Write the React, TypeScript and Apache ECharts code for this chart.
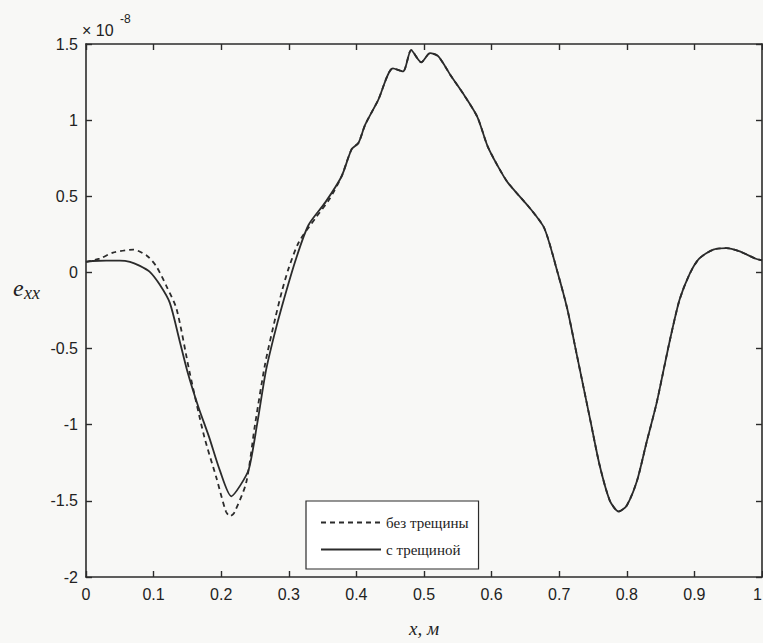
import React, { useEffect, useRef } from "react";
import * as echarts from "echarts";

// Ticks
const xTicks = { min: 0, max: 1, interval: 0.1 };
const yTicks = { min: -2, max: 1.5, interval: 0.5 };

// Series: "с трещиной" (solid)
const xCrack = [0, 0.01, 0.03, 0.05, 0.065, 0.079, 0.094, 0.109, 0.124, 0.138, 0.15, 0.166, 0.182, 0.198, 0.215, 0.228, 0.241, 0.253, 0.266, 0.278, 0.29, 0.31, 0.329, 0.354, 0.378, 0.393, 0.403, 0.413, 0.432, 0.454, 0.469, 0.481, 0.496, 0.509, 0.521, 0.54, 0.56, 0.579, 0.594, 0.609, 0.624, 0.657, 0.678, 0.697, 0.712, 0.726, 0.746, 0.76, 0.775, 0.788, 0.8, 0.815, 0.829, 0.844, 0.854, 0.864, 0.878, 0.893, 0.907, 0.928, 0.947, 0.966, 0.991, 1];
const yCrack = [0.07, 0.075, 0.078, 0.078, 0.07, 0.045, 0.005, -0.08, -0.2, -0.44, -0.65, -0.88, -1.08, -1.3, -1.47, -1.4, -1.29, -1.0, -0.65, -0.42, -0.22, 0.08, 0.31, 0.46, 0.63, 0.81, 0.85, 0.97, 1.13, 1.34, 1.32, 1.46, 1.38, 1.44, 1.42, 1.29, 1.16, 1.02, 0.83, 0.7, 0.59, 0.42, 0.29, 0.01, -0.24, -0.54, -0.97, -1.27, -1.5, -1.57, -1.53, -1.37, -1.12, -0.86, -0.65, -0.44, -0.18, -0.01, 0.09, 0.15, 0.16, 0.14, 0.09, 0.08];

// Series: "без трещины" (dashed)
const xNoCrack = [0, 0.02, 0.04, 0.07, 0.09, 0.104, 0.119, 0.134, 0.153, 0.175, 0.193, 0.207, 0.213, 0.219, 0.237, 0.25, 0.265, 0.28, 0.29, 0.3, 0.315, 0.34, 0.36, 0.378, 0.393, 0.403, 0.413, 0.432, 0.454, 0.469, 0.481, 0.496, 0.509, 0.521, 0.54, 0.56, 0.579, 0.594, 0.609, 0.624, 0.657, 0.678, 0.697, 0.712, 0.726, 0.746, 0.76, 0.775, 0.788, 0.8, 0.815, 0.829, 0.844, 0.854, 0.864, 0.878, 0.893, 0.907, 0.928, 0.947, 0.966, 0.991, 1];
const yNoCrack = [0.07, 0.09, 0.13, 0.15, 0.11, 0.04, -0.09, -0.24, -0.65, -1.08, -1.35, -1.57, -1.6, -1.58, -1.38, -1.0, -0.6, -0.3, -0.12, 0.03, 0.2, 0.36, 0.48, 0.63, 0.81, 0.85, 0.97, 1.13, 1.34, 1.32, 1.46, 1.38, 1.44, 1.42, 1.29, 1.16, 1.02, 0.83, 0.7, 0.59, 0.42, 0.29, 0.01, -0.24, -0.54, -0.97, -1.27, -1.5, -1.57, -1.53, -1.37, -1.12, -0.86, -0.65, -0.44, -0.18, -0.01, 0.09, 0.15, 0.16, 0.14, 0.09, 0.08];

const seriesNames = ["без трещины", "с трещиной"];

const zip = (xs: number[], ys: number[]) => xs.map((x, i) => [x, ys[i]]);

const INK = "#2b2b2b";
const SANS = "Liberation Sans";
const SERIF = "Liberation Serif";

export default function App() {
  const ref = useRef<HTMLDivElement>(null);
  useEffect(() => {
    if (!ref.current) return;
    const chart = echarts.init(ref.current, undefined, { renderer: "svg" });
    const axisLine = { show: true, onZero: false, lineStyle: { color: INK, width: 1.6 } };
    const axisTick = { show: true, inside: true, length: 6, lineStyle: { color: INK, width: 1.4 } };
    chart.setOption({
      animation: false,
      backgroundColor: "#f8f8f6",
      grid: { left: 86, top: 44, width: 676, height: 544, containLabel: false },
      xAxis: [
        {
          type: "value", position: "bottom", ...xTicks,
          axisLine, axisTick, splitLine: { show: false },
          axisLabel: { color: "#222", fontFamily: SANS, fontSize: 16, margin: 9, alignMaxLabel: "right" },
          name: "x, м", nameLocation: "middle", nameGap: 42,
          nameTextStyle: { color: "#222", fontFamily: SERIF, fontStyle: "italic", fontSize: 19 },
        },
        {
          type: "value", position: "top", ...xTicks,
          axisLine, axisTick, splitLine: { show: false }, axisLabel: { show: false },
        },
      ],
      yAxis: [
        {
          type: "value", position: "left", ...yTicks,
          axisLine, axisTick, splitLine: { show: false },
          axisLabel: { color: "#222", fontFamily: SANS, fontSize: 16, margin: 8 },
        },
        {
          type: "value", position: "right", ...yTicks,
          axisLine, axisTick, splitLine: { show: false }, axisLabel: { show: false },
        },
      ],
      legend: {
        orient: "vertical",
        left: 306,
        top: 501,
        data: seriesNames,
        backgroundColor: "#ffffff",
        borderColor: INK,
        borderWidth: 1.2,
        borderRadius: 0,
        padding: [14, 10, 12, 14],
        itemWidth: 60,
        itemHeight: 14,
        itemGap: 12,
        itemStyle: { opacity: 0 },
        textStyle: { color: "#222", fontFamily: SERIF, fontSize: 15 },
      },
      graphic: [
        { type: "text", left: 82, top: 22, style: { text: "× 10", font: `16px ${SANS}`, fill: "#222" } },
        { type: "text", left: 120, top: 13, style: { text: "-8", font: `12px ${SANS}`, fill: "#222" } },
        { type: "text", left: 13, top: 276, style: { text: "e", font: `italic 24px ${SERIF}`, fill: "#222" } },
        { type: "text", left: 24, top: 284, style: { text: "xx", font: `italic 18px ${SERIF}`, fill: "#222" } },
      ],
      series: [
        {
          name: seriesNames[0], type: "line", data: zip(xNoCrack, yNoCrack),
          symbol: "none", smooth: 0.25,
          lineStyle: { color: INK, width: 1.8, type: [5, 4] },
          itemStyle: { color: INK },
        },
        {
          name: seriesNames[1], type: "line", data: zip(xCrack, yCrack),
          symbol: "none", smooth: 0.25,
          lineStyle: { color: INK, width: 1.8, type: "solid" },
          itemStyle: { color: INK },
        },
      ],
    });
    return () => chart.dispose();
  }, []);
  return (
    <div style={{ position: "fixed", left: 0, top: 0, width: 763, height: 643, overflow: "hidden", background: "#f8f8f6" }}>
      <div ref={ref} style={{ width: 790, height: 643 }} />
    </div>
  );
}
